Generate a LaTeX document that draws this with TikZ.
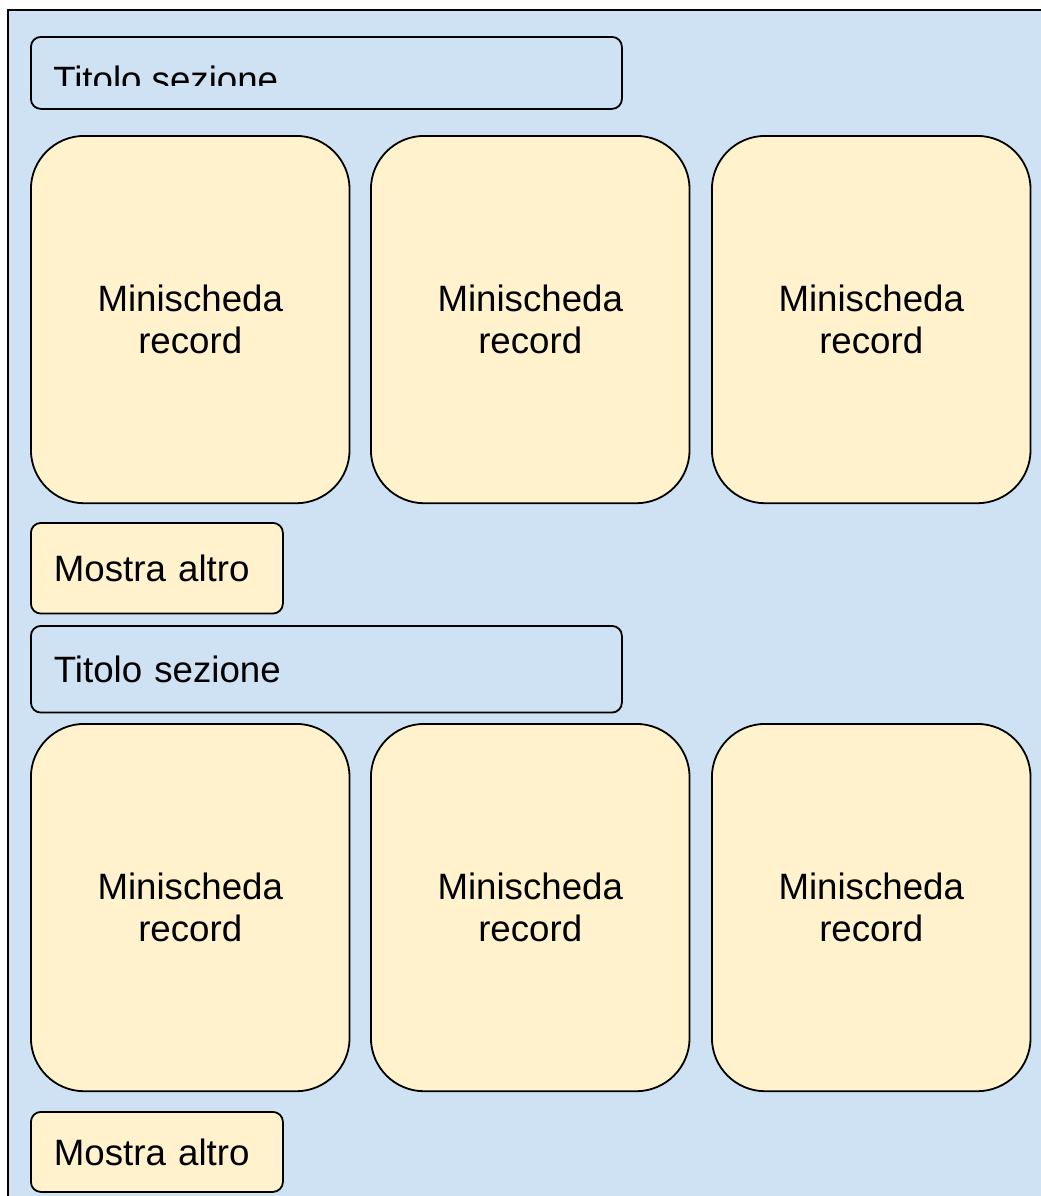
\documentclass[tikz,border=0pt]{standalone}
\usepackage{fontspec}
\setmainfont{Liberation Sans}
\definecolor{paneblue}{HTML}{CFE2F3}
\definecolor{cardyellow}{HTML}{FFF2CC}
\begin{document}
\begin{tikzpicture}[x=0.75pt,y=-0.75pt,
  pane/.style={draw=black, line width=1.5pt, fill=paneblue},
  titlebox/.style={draw=black, line width=1.35pt, fill=paneblue, rounded corners=7.5pt,
    minimum width=443.25pt, anchor=north west, inner xsep=17.25pt,
    text width=408.75pt, align=left},
  card/.style={draw=black, line width=1.35pt, fill=cardyellow, rounded corners=40pt,
    minimum width=239pt, minimum height=275.5pt, anchor=north west,
    align=center, font=\fontsize{27.5pt}{31.1pt}\selectfont},
  morebtn/.style={draw=black, line width=1.35pt, fill=cardyellow, rounded corners=7.5pt,
    minimum width=189pt, anchor=north west, inner xsep=17.25pt,
    text width=154.5pt, align=left},
  label/.style={font=\fontsize{27.5pt}{31.1pt}\selectfont}]
\useasboundingbox (0,0) rectangle (1041,1196);
\clip (0,0) rectangle (1041,1196);

% background pane, running past the right and bottom edges
\draw[pane] (8,10) rectangle (1060,1215);

% first section
\node[titlebox, minimum height=54pt] (title1) at (30,36) {};
\begin{scope}
  \clip (30,36) rectangle (621,85);
  \node[label, anchor=base west, inner sep=0pt] (title1text) at (53,92.5) {Titolo sezione};
\end{scope}
\node[card] (c11) at (30,135) {Minischeda\\record};
\node[card] (c12) at (370,135) {Minischeda\\record};
\node[card] (c13) at (711,135) {Minischeda\\record};
\node[morebtn, label, minimum height=68pt] (more1) at (30,522) {Mostra altro};

% second section
\node[titlebox, label, minimum height=65pt] (title2) at (30,625) {Titolo sezione};
\node[card] (c21) at (30,723) {Minischeda\\record};
\node[card] (c22) at (370,723) {Minischeda\\record};
\node[card] (c23) at (711,723) {Minischeda\\record};
\node[morebtn, label, minimum height=60pt] (more2) at (30,1111) {Mostra altro};
\end{tikzpicture}
\end{document}
